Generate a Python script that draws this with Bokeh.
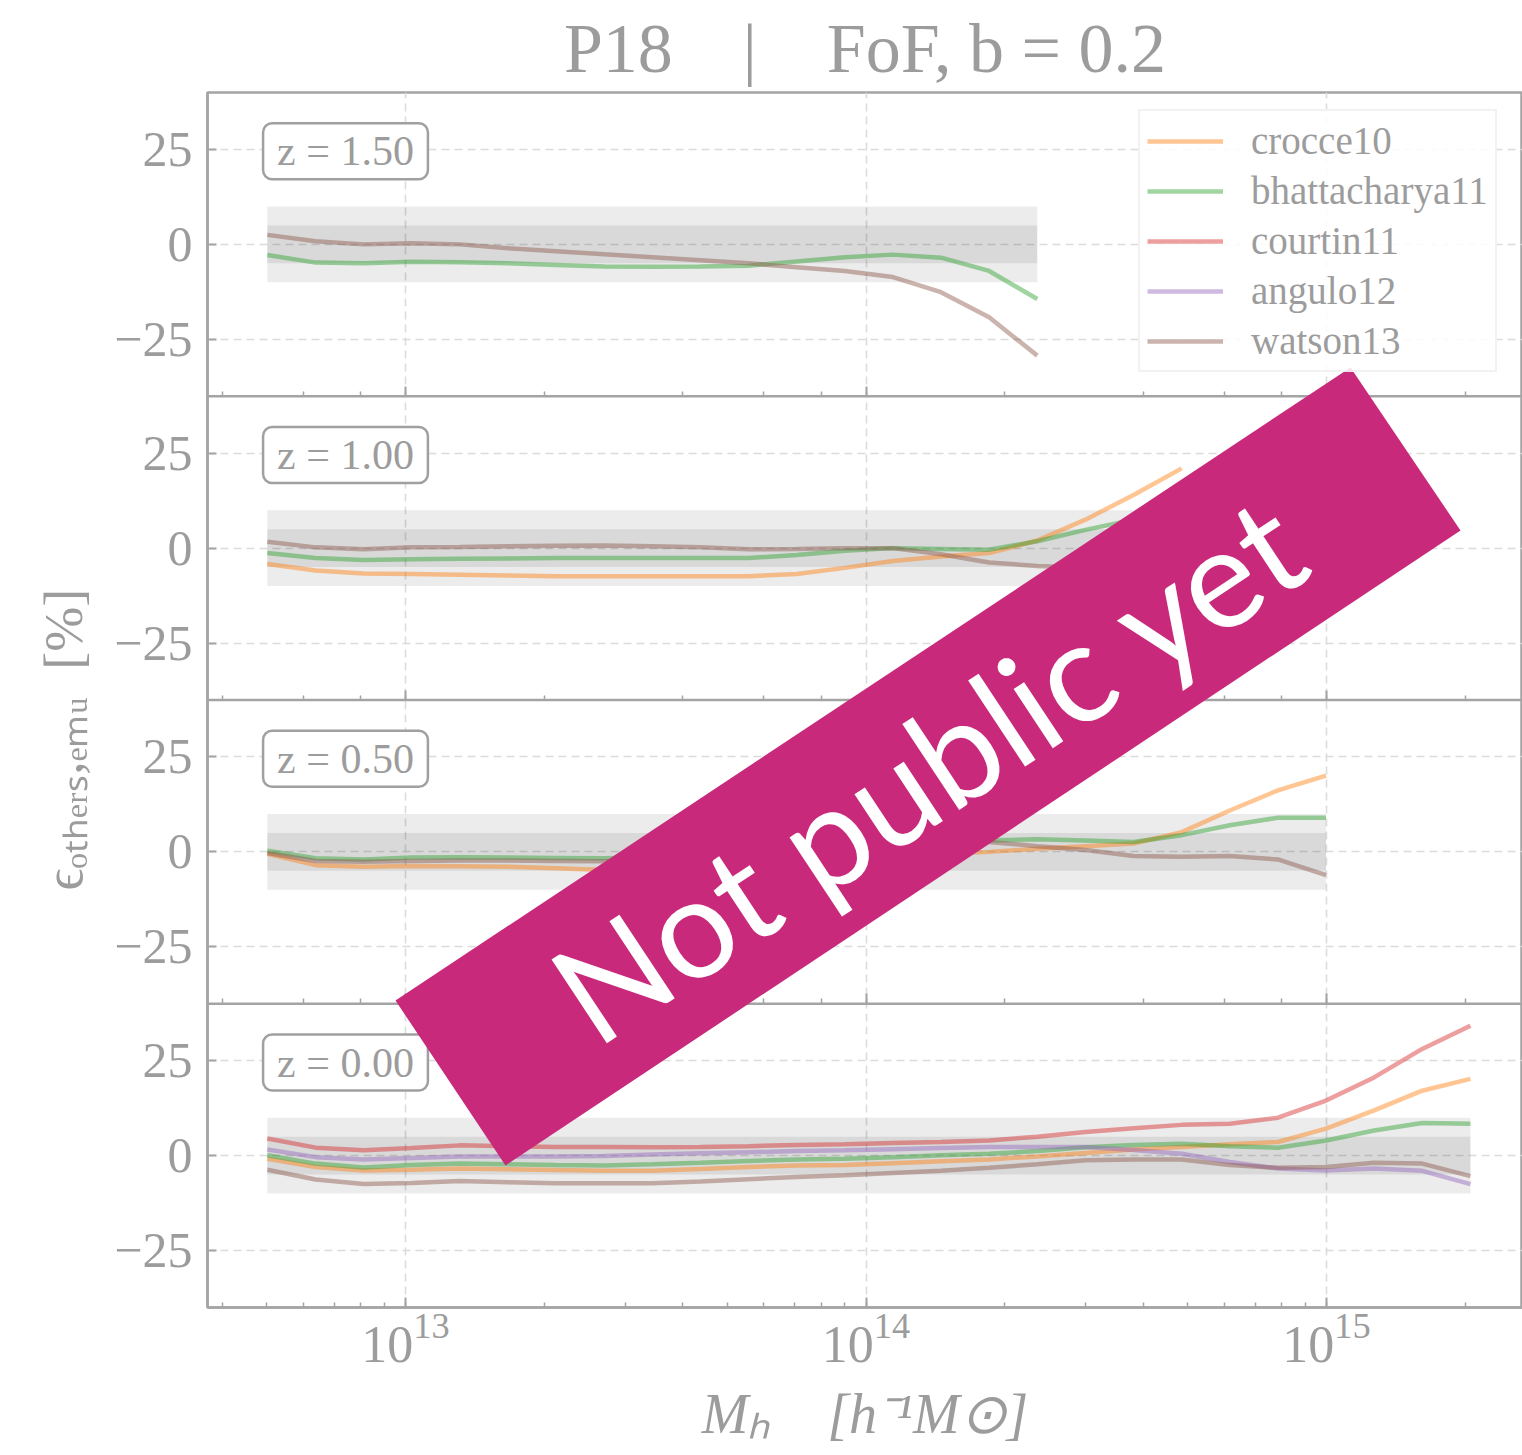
import math
from bokeh.plotting import figure
from bokeh.models import (Range1d, FixedTicker, LogTicker, Grid, Span, Label, Title,
                          PolyAnnotation, Legend, LegendItem)
from bokeh.embed import file_html
from bokeh.resources import INLINE

# ---------------- data ----------------
masses = [5.01e12, 6.38e12, 8.11e12, 1.032e13, 1.312e13, 1.669e13, 2.123e13, 2.701e13,
          3.436e13, 4.37e13, 5.559e13, 7.07e13, 8.995e13, 1.144e14, 1.455e14, 1.851e14,
          2.355e14, 2.996e14, 3.811e14, 4.848e14, 6.166e14, 7.844e14, 9.977e14, 1.269e15,
          1.614e15, 2.054e15]

models = ["crocce10", "bhattacharya11", "courtin11", "angulo12", "watson13"]
model_colors = ["#ff7f0e", "#2ca02c", "#d62728", "#9467bd", "#8c564b"]

redshift_labels = ["z = 1.50", "z = 1.00", "z = 0.50", "z = 0.00"]

z150 = {
    "bhattacharya11": [-2.8, -4.8, -5.0, -4.6, -4.7, -5.0, -5.4, -5.8, -5.9, -5.8, -5.6, -4.5,
                       -3.4, -2.7, -3.5, -7.0, -14.4],
    "watson13": [2.5, 0.8, 0.0, 0.3, 0.0, -1.0, -1.8, -2.6, -3.4, -4.2, -5.0, -6.0, -7.0,
                 -8.6, -12.6, -19.2, -29.3],
}
z100 = {
    "crocce10": [-4.2, -5.9, -6.7, -6.8, -7.0, -7.2, -7.4, -7.4, -7.4, -7.4, -7.4, -6.8, -5.2,
                 -3.4, -2.2, -1.3, 2.0, 7.5, 14.0, 21.0],
    "bhattacharya11": [-1.3, -2.6, -3.1, -2.9, -2.8, -2.7, -2.6, -2.6, -2.6, -2.6, -2.6, -1.8,
                       -0.7, 0.0, -0.2, -0.4, 1.8, 4.8, 7.5, 9.5],
    "watson13": [1.7, 0.2, -0.3, 0.2, 0.3, 0.5, 0.6, 0.7, 0.5, 0.2, -0.3, -0.2, 0.0, 0.0,
                 -1.6, -3.8, -4.7, -5.2, -6.0, -7.0],
}
z050 = {
    "crocce10": [-0.5, -3.5, -3.9, -3.7, -3.8, -3.9, -4.3, -4.8, -4.8, -4.5, -3.8, -3.0, -2.0,
                 -1.2, -0.5, 0.0, 0.8, 1.5, 2.2, 5.2, 10.9, 16.2, 20.1],
    "bhattacharya11": [0.3, -1.7, -2.0, -1.5, -1.4, -1.5, -1.6, -1.7, -1.5, -1.0, -0.5, 0.0,
                       0.5, 1.2, 2.0, 3.0, 3.3, 3.0, 2.6, 4.4, 7.0, 9.0, 9.0],
    "watson13": [-0.3, -2.4, -2.6, -2.4, -2.3, -2.3, -2.4, -2.5, -2.2, -1.5, -0.5, 0.5, 1.5,
                 2.2, 2.6, 2.6, 1.5, 0.5, -1.1, -1.3, -1.1, -2.0, -6.1],
}
z000 = {
    "crocce10": [-0.8, -3.0, -3.9, -3.7, -3.4, -3.6, -3.8, -4.0, -4.0, -3.5, -3.0, -2.6, -2.5,
                 -2.0, -1.5, -1.0, -0.2, 0.7, 1.6, 2.3, 3.0, 3.6, 7.1, 11.9, 17.1, 20.2],
    "bhattacharya11": [0.1, -2.1, -3.1, -2.5, -2.1, -2.3, -2.5, -2.6, -2.3, -1.9, -1.4, -1.0,
                       -0.8, -0.4, 0.1, 0.5, 1.2, 2.2, 2.8, 3.1, 2.5, 2.1, 4.0, 6.6, 8.6, 8.4],
    "courtin11": [4.5, 2.1, 1.4, 2.0, 2.7, 2.5, 2.3, 2.3, 2.2, 2.3, 2.5, 2.8, 3.0, 3.3, 3.6,
                  4.0, 5.0, 6.2, 7.2, 8.1, 8.4, 10.0, 14.5, 20.6, 28.1, 34.2],
    "angulo12": [1.6, -0.4, -1.0, -0.6, -0.2, -0.2, -0.2, -0.1, 0.3, 0.6, 0.9, 1.2, 1.4, 1.7,
                 2.0, 2.3, 2.3, 2.3, 1.5, 0.5, -1.7, -3.4, -3.9, -3.4, -4.0, -7.5],
    "watson13": [-3.7, -6.3, -7.5, -7.2, -6.7, -7.0, -7.3, -7.3, -7.3, -6.8, -6.2, -5.6, -5.2,
                 -4.6, -4.0, -3.2, -2.3, -1.2, -1.0, -1.0, -2.5, -3.2, -3.0, -1.9, -2.1, -5.4],
}
panels = [z150, z100, z050, z000]

band_outer = 10.0
band_inner = 5.0
ytick_values = [-25, 0, 25]
ytick_labels = ["\u221225", "0", "25"]
title_text = "P18\u2003|\u2003FoF, b = 0.2"
xlabel_text = "M\u2095\u2002\u2002[h\u207b\u00b9M\u2299]"
ylabel_text = "\u03f5\u2092\u209c\u2095\u2091\u1d63\u209b,\u2091\u2098\u1d64\u2002[%]"
banner_text = "Not public yet"

# ---------------- style / geometry ----------------
FONT = "Liberation Serif"
TXT = "#9c9c9c"
SPINE = "#a4a4a4"
GRID = "#dcdcdc"

W, H = 1522, 1455
BL, BR, BT, BB = 207, 0, 92, 148
X_LO, X_HI = 3.715e12, 2.665e15
Y_LO, Y_HI = -40.0, 40.0
SPAN = Y_HI - Y_LO
NP = len(panels)

FL, FR, FT, FB = BL, W - BR, BT, H - BB
LLO, LHI = math.log10(X_LO), math.log10(X_HI)


def px2x(px):
    return 10 ** (LLO + (px - FL) / (FR - FL) * (LHI - LLO))


def py2y(py):
    return Y_LO + (FB - py) / (FB - FT) * SPAN * NP


p = figure(width=W, height=H, x_axis_type="log", x_range=Range1d(X_LO, X_HI),
           y_range=Range1d(Y_LO, Y_LO + SPAN * NP),
           output_backend="svg", toolbar_location=None,
           min_border_left=BL, min_border_right=BR, min_border_top=BT, min_border_bottom=BB)
p.background_fill_color = "white"
p.border_fill_color = "white"
p.outline_line_color = SPINE
p.outline_line_width = 2.5

# title
p.title.text = title_text
p.title.align = "center"
p.title.text_font = FONT
p.title.text_font_size = "70px"
p.title.text_font_style = "normal"
p.title.text_color = TXT
p.title.standoff = 12

# panel ranges: panel k (0 = top) occupies its own slice of the frame
names = []
offsets = []
for k in range(NP):
    below = NP - 1 - k
    name = "panel%d" % k
    names.append(name)
    offsets.append(below * SPAN)
    p.extra_y_ranges[name] = Range1d(Y_LO - below * SPAN, Y_HI + k * SPAN)

# y axis: one axis, ticks per panel
tick_pos, tick_over = [], {}
for off in offsets:
    for v, lab in zip(ytick_values, ytick_labels):
        tick_pos.append(v + off)
        tick_over[v + off] = lab
yax = p.yaxis[0]
yax.ticker = FixedTicker(ticks=tick_pos)
yax.major_label_overrides = tick_over
yax.major_label_text_font = FONT
yax.major_label_text_font_size = "50px"
yax.major_label_text_color = TXT
yax.major_label_standoff = 15
yax.major_tick_in = 9
yax.major_tick_out = 0
yax.major_tick_line_color = SPINE
yax.major_tick_line_width = 2
yax.minor_tick_line_color = None
yax.axis_line_color = SPINE
yax.axis_line_width = 2.5

xax = p.xaxis[0]
xax.major_label_text_font = FONT
xax.major_label_text_font_size = "52px"
xax.major_label_text_color = TXT
xax.major_label_standoff = 6
xax.major_tick_in = 10
xax.major_tick_out = 0
xax.minor_tick_in = 5
xax.minor_tick_out = 0
xax.major_tick_line_color = SPINE
xax.minor_tick_line_color = SPINE
xax.major_tick_line_width = 2
xax.minor_tick_line_width = 1.5
xax.axis_line_color = SPINE
xax.axis_line_width = 2.5
xax.axis_label = xlabel_text
xax.axis_label_text_font = FONT
xax.axis_label_text_font_size = "56px"
xax.axis_label_text_font_style = "italic"
xax.axis_label_text_color = TXT
xax.axis_label_standoff = 18

# y label as a left title, anchored from the frame bottom
p.add_layout(Title(text=ylabel_text, align="left", offset=1307 - 890, text_font=FONT,
                   text_font_size="54px", text_font_style="normal", text_color=TXT,
                   standoff=35), "left")

p.xgrid.grid_line_color = GRID
p.xgrid.grid_line_dash = "8 5"
p.xgrid.grid_line_width = 1.6
p.ygrid.grid_line_color = GRID
p.ygrid.grid_line_dash = "8 5"
p.ygrid.grid_line_width = 1.6

# inner panel ticks (bottom edge of the upper panels)
for k in range(NP - 1):
    try:
        g1 = Grid(dimension=0, ticker=LogTicker(), y_range_name=names[k],
                  cross_bounds=(Y_LO, Y_LO + 2.6), grid_line_color=SPINE,
                  grid_line_width=2, minor_grid_line_color=None)
        g2 = Grid(dimension=0, ticker=LogTicker(), y_range_name=names[k],
                  cross_bounds=(Y_LO, Y_LO + 1.3), grid_line_color=None,
                  minor_grid_line_color=SPINE, minor_grid_line_width=1.5)
        p.add_layout(g1, "center")
        p.add_layout(g2, "center")
    except Exception:
        pass

# bands + lines
line_renderers = {}
for k, data in enumerate(panels):
    n = max(len(v) for v in data.values())
    xs = masses[:n]
    p.quad(left=xs[0], right=xs[-1], bottom=-band_outer, top=band_outer, y_range_name=names[k],
           fill_color="black", fill_alpha=0.075, line_color=None)
    p.quad(left=xs[0], right=xs[-1], bottom=-band_inner, top=band_inner, y_range_name=names[k],
           fill_color="black", fill_alpha=0.08, line_color=None)
    for m, c in zip(models, model_colors):
        if m in data:
            vals = data[m]
            r = p.line(masses[:len(vals)], vals, y_range_name=names[k], line_color=c,
                       line_alpha=0.45, line_width=4.5)
            line_renderers[m] = r

# panel separators
for k in range(NP - 1):
    p.add_layout(Span(location=Y_LO, dimension="width", y_range_name=names[k],
                      line_color=SPINE, line_width=2.5))

# redshift boxes
for k, zl in enumerate(redshift_labels):
    p.add_layout(Label(x=px2x(345), y=24.5, y_range_name=names[k], text=zl,
                       text_align="center", text_baseline="middle", text_font=FONT,
                       text_font_size="42px", text_color=TXT, background_fill_color="white",
                       border_line_color="#a0a0a0", border_line_width=2.5,
                       padding=(14, 5), border_radius=9))

# legend
items = [LegendItem(label=m, renderers=[line_renderers[m]]) for m in models]
legend = Legend(items=items, location=(1138 - FL, FB - 372), label_text_font=FONT,
                label_text_font_size="39px", label_text_color=TXT, glyph_width=76,
                glyph_height=44, label_height=44, spacing=5, padding=7, label_standoff=28,
                border_line_color="#e6e6e6", border_line_width=2, background_fill_alpha=0.85,
                margin=0)
p.add_layout(legend, "center")

# banner
corners = [(395, 1000), (1350, 367), (1460, 530), (505, 1165)]
banner = PolyAnnotation(xs=[px2x(c[0]) for c in corners], ys=[py2y(c[1]) for c in corners],
                        fill_color="#c9297b", fill_alpha=1.0, line_color=None, level="overlay")
p.add_layout(banner)
cx = sum(c[0] for c in corners) / 4
cy = sum(c[1] for c in corners) / 4
p.add_layout(Label(x=px2x(cx), y=py2y(cy), text=banner_text, angle=math.radians(33.5),
                   text_align="center", text_baseline="middle", text_font="Lato",
                   text_font_size="140px", text_color="white", level="overlay"))

open("out.html", "w").write(file_html(p, INLINE))
